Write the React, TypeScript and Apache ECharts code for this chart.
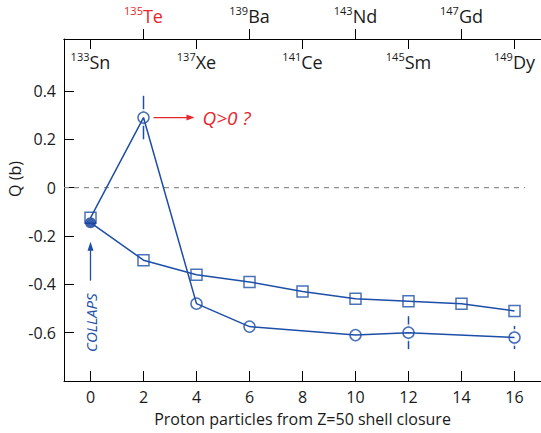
import React, { useEffect, useRef } from "react";
import * as echarts from "echarts";

// Proton particles beyond the Z=50 shell closure
const protonNumbers = [0, 2, 4, 6, 8, 10, 12, 14, 16];
// Theory curve drawn with open squares
const squareQ = [-0.125, -0.3, -0.36, -0.39, -0.43, -0.46, -0.47, -0.48, -0.51];
// Theory curve drawn with open circles (with uncertainties)
const circleX = [2, 4, 6, 10, 12, 16];
const circleQ = [0.29, -0.48, -0.575, -0.61, -0.6, -0.62];
const circleErr = [0.09, 0, 0, 0, 0.068, 0.048];
// COLLAPS measurement
const collapsX = 0;
const collapsQ = -0.145;

// Isotope labels along the top axis
const lowerPos = [0, 4, 8, 12, 16];
const lowerMass = ["133", "137", "141", "145", "149"];
const lowerSym = ["Sn", "Xe", "Ce", "Sm", "Dy"];
const upperPos = [2, 6, 10, 14];
const upperMass = ["135", "139", "143", "147"];
const upperSym = ["Te", "Ba", "Nd", "Gd"];
const highlighted = "Te";

const yTicks = [-0.6, -0.4, -0.2, 0, 0.2, 0.4];
const zeroLine = [[-1, 0], [16.4, 0]];

const FONT = "'Open Sans', 'Noto Sans', sans-serif";
const BLUE = "#1d4ea8";
const DARK_BLUE = "#0b3a98";
const RED = "#e8262b";
const INK = "#1a1a1a";

const isoRich = {
  m: { fontSize: 11, fontFamily: FONT, color: INK, verticalAlign: "top", lineHeight: 21 },
  s: { fontSize: 18, fontFamily: FONT, color: INK, lineHeight: 22 },
  mr: { fontSize: 11, fontFamily: FONT, color: RED, verticalAlign: "top", lineHeight: 21 },
  sr: { fontSize: 18, fontFamily: FONT, color: RED, lineHeight: 22 },
};

function isoLabel(pos: number[], mass: string[], sym: string[]) {
  return (v: number) => {
    const i = pos.indexOf(Math.round(v));
    if (i < 0) return "";
    const red = sym[i] === highlighted;
    return red ? `{mr|${mass[i]}}{sr|${sym[i]}}` : `{m|${mass[i]}}{s|${sym[i]}}`;
  };
}

export default function App() {
  const ref = useRef<HTMLDivElement>(null);

  useEffect(() => {
    if (!ref.current) return;
    const chart = echarts.init(ref.current, null, { renderer: "svg" });

    const squarePts = protonNumbers.map((x, i) => [x, squareQ[i]]);
    const circlePts = circleX.map((x, i) => [x, circleQ[i]]);
    const errData = circleX
      .map((x, i) => [x, circleQ[i] - circleErr[i], circleQ[i] + circleErr[i], circleErr[i]])
      .filter((d) => d[3] > 0);

    const axisBase = {
      type: "value" as const,
      min: -1,
      max: 17,
      gridIndex: 0,
      splitLine: { show: false },
      axisLine: { onZero: false, lineStyle: { color: "#000", width: 1 } },
    };

    chart.setOption({
      animation: false,
      backgroundColor: "#fff",
      grid: { left: 64, top: 39, width: 477.7, height: 342, containLabel: false },
      xAxis: [
        {
          ...axisBase,
          position: "bottom",
          axisTick: { inside: true, length: 10, customValues: protonNumbers, lineStyle: { color: "#000" } },
          axisLabel: { customValues: protonNumbers, margin: 8, fontSize: 16, fontFamily: FONT, color: INK },
          name: "Proton particles from Z=50 shell closure",
          nameLocation: "middle",
          nameGap: 30,
          nameTextStyle: { fontSize: 16, fontFamily: FONT, color: INK },
        },
        {
          ...axisBase,
          position: "top",
          axisTick: { inside: true, length: 10, customValues: lowerPos, lineStyle: { color: "#000" } },
          axisLabel: {
            inside: true,
            customValues: lowerPos,
            margin: 12,
            formatter: isoLabel(lowerPos, lowerMass, lowerSym),
            rich: isoRich,
          },
        },
        {
          ...axisBase,
          position: "top",
          axisTick: { inside: false, length: 10, customValues: upperPos, lineStyle: { color: "#000" } },
          axisLabel: {
            customValues: upperPos,
            margin: 12,
            formatter: isoLabel(upperPos, upperMass, upperSym),
            rich: isoRich,
          },
        },
      ],
      yAxis: {
        type: "value",
        min: -0.8,
        max: 0.615,
        splitLine: { show: false },
        axisLine: { onZero: false, lineStyle: { color: "#000", width: 1 } },
        axisTick: { inside: true, length: 10, customValues: yTicks, lineStyle: { color: "#000" } },
        axisLabel: {
          customValues: yTicks,
          margin: 8,
          fontSize: 16,
          fontFamily: FONT,
          color: INK,
          formatter: (v: number) => (Math.abs(v) < 1e-9 ? "0" : v.toFixed(1)),
        },
      },
      series: [
        {
          type: "line",
          data: zeroLine,
          showSymbol: false,
          silent: true,
          lineStyle: { color: "#8f8f8f", width: 1.2, type: [5, 5] },
        },
        {
          type: "custom",
          data: errData,
          encode: { x: 0, y: [1, 2] },
          renderItem: (_p: any, api: any) => {
            const a = api.coord([api.value(0), api.value(1)]);
            const b = api.coord([api.value(0), api.value(2)]);
            return {
              type: "line",
              shape: { x1: a[0], y1: a[1], x2: b[0], y2: b[1] },
              style: { stroke: BLUE, lineWidth: 1.5 },
            };
          },
        },
        {
          type: "line",
          data: [[0, squareQ[0]], ...circlePts],
          showSymbol: false,
          lineStyle: { color: BLUE, width: 1.5 },
        },
        {
          type: "line",
          data: [[collapsX, collapsQ], ...squarePts.slice(1)],
          showSymbol: false,
          lineStyle: { color: BLUE, width: 1.5 },
        },
        // white halos keep the lines clear of the open markers
        {
          type: "scatter",
          data: circlePts,
          symbol: "circle",
          symbolSize: 17,
          silent: true,
          itemStyle: { color: "#fff" },
        },
        {
          type: "scatter",
          data: squarePts.slice(1),
          symbol: "rect",
          symbolSize: 16,
          silent: true,
          itemStyle: { color: "#fff" },
        },
        {
          type: "scatter",
          data: circlePts,
          symbol: "circle",
          symbolSize: 11,
          itemStyle: { color: "#fff", borderColor: BLUE, borderWidth: 1.5 },
        },
        {
          type: "scatter",
          data: squarePts,
          symbol: "rect",
          symbolSize: 11,
          itemStyle: { color: "#fff", borderColor: BLUE, borderWidth: 1.5 },
        },
        {
          type: "scatter",
          data: [[collapsX, collapsQ]],
          symbol: "circle",
          symbolSize: 11,
          itemStyle: { color: DARK_BLUE },
        },
      ],
    });

    // Annotations placed relative to the data points
    const te = chart.convertToPixel({ gridIndex: 0 }, [circleX[0], circleQ[0]]) as number[];
    const col = chart.convertToPixel({ gridIndex: 0 }, [collapsX, collapsQ]) as number[];
    chart.setOption({
      graphic: [
        {
          type: "text",
          x: 14.5,
          y: 179,
          rotation: Math.PI / 2,
          style: { text: "Q (b)", fontSize: 16, fontFamily: FONT, fill: INK, align: "center", verticalAlign: "middle" },
        },
        {
          type: "line",
          shape: { x1: te[0] + 10, y1: te[1], x2: te[0] + 45, y2: te[1] },
          style: { stroke: RED, lineWidth: 1.3 },
        },
        {
          type: "polygon",
          shape: { points: [[te[0] + 51, te[1]], [te[0] + 43, te[1] - 3], [te[0] + 43, te[1] + 3]] },
          style: { fill: RED },
        },
        {
          type: "text",
          x: te[0] + 59,
          y: te[1],
          style: {
            text: "Q>0 ?",
            fontSize: 19,
            fontStyle: "italic",
            fontFamily: FONT,
            fill: RED,
            align: "left",
            verticalAlign: "middle",
          },
        },
        {
          type: "line",
          shape: { x1: col[0], y1: col[1] + 58, x2: col[0], y2: col[1] + 26 },
          style: { stroke: BLUE, lineWidth: 1.3 },
        },
        {
          type: "polygon",
          shape: { points: [[col[0], col[1] + 19], [col[0] - 3, col[1] + 28], [col[0] + 3, col[1] + 28]] },
          style: { fill: BLUE },
        },
        {
          type: "text",
          x: col[0],
          y: col[1] + 100,
          rotation: Math.PI / 2,
          style: {
            text: "COLLAPS",
            fontSize: 15,
            fontStyle: "italic",
            fontFamily: FONT,
            fill: BLUE,
            align: "center",
            verticalAlign: "middle",
          },
        },
      ],
    });

    return () => chart.dispose();
  }, []);

  return (
    <div
      ref={ref}
      style={{ position: "absolute", left: 0, top: 0, width: 541, height: 433, background: "#fff" }}
    />
  );
}
